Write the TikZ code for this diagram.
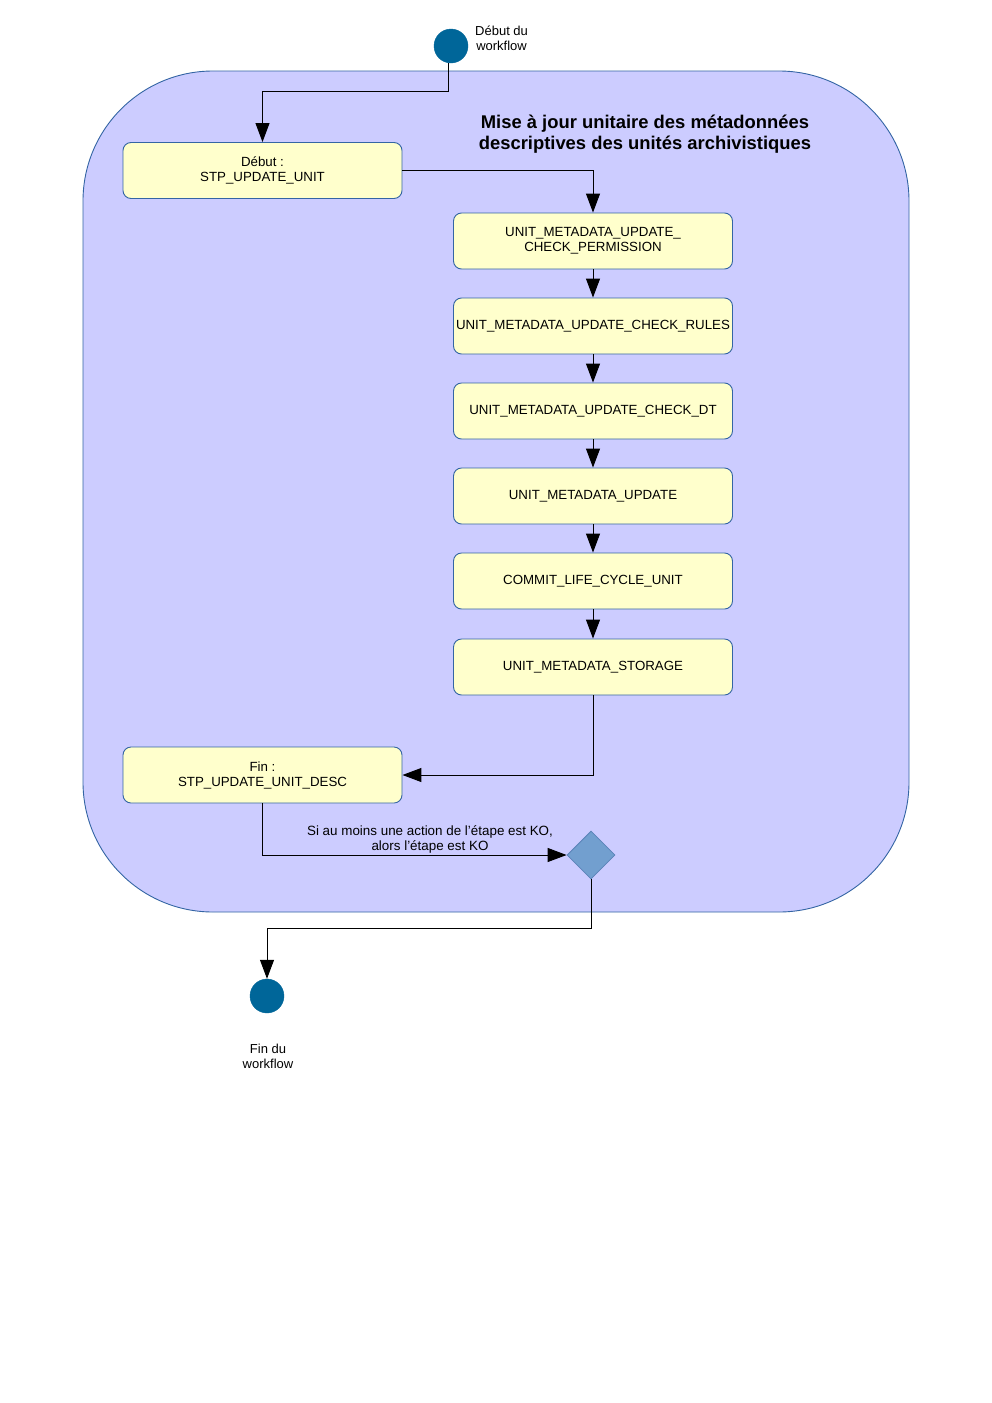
\documentclass[tikz,border=0pt]{standalone}
\usepackage{fontspec}
\setmainfont{Liberation Sans}
\usetikzlibrary{arrows.meta,shapes.geometric,positioning}
\definecolor{lanefill}{HTML}{CCCCFF}
\definecolor{laneedge}{HTML}{3465A4}
\definecolor{boxfill}{HTML}{FFFFCC}
\definecolor{boxedge}{HTML}{3465A4}
\definecolor{dotfill}{HTML}{006699}
\definecolor{diafill}{HTML}{729FCF}
\definecolor{diaedge}{HTML}{5B83B8}
\tikzset{
  stepbox/.style={draw=boxedge, fill=boxfill, rounded corners=8pt, line width=0.9pt,
    minimum width=279pt, minimum height=56pt, align=center, inner sep=0pt,
    font=\fontsize{13.3}{15}\selectfont},
  term/.style={circle, fill=dotfill, draw=dotfill, minimum size=34pt, inner sep=0pt},
  choice/.style={diamond, fill=diafill, draw=diaedge, line width=0.8pt, minimum size=48pt, inner sep=0pt},
  lbl/.style={align=center, font=\fontsize{13}{15}\selectfont, inner sep=0pt},
  flow/.style={line width=1pt, -{Triangle[length=19pt,width=14pt]}},
}
\begin{document}
\begin{tikzpicture}[x=1pt,y=-1pt]
\useasboundingbox (0,0) rectangle (992,1403);
\fill[white] (0,0) rectangle (992,1403);
% swimlane
\draw[draw=laneedge, fill=lanefill, line width=0.9pt, rounded corners=130pt] (83,71) rectangle (909,912);
\node[align=center, font=\fontsize{18.4}{21}\selectfont\bfseries, inner sep=0pt] (title) at (645,134)
  {Mise à jour unitaire des métadonnées\\descriptives des unités archivistiques};
% start
\node[term] (start) at (451,46) {};
\node[lbl, anchor=west] (startlbl) at (475,38) {Début du\\ workflow};
% boxes
\node[stepbox] (b1) at (262.5,170.5) {Début :\\STP\_UPDATE\_UNIT};
\node[stepbox] (b2) at (593,241) {UNIT\_METADATA\_UPDATE\_\\CHECK\_PERMISSION};
\node[stepbox] (b3) at (593,326) {UNIT\_METADATA\_UPDATE\_CHECK\_RULES};
\node[stepbox] (b4) at (593,411) {UNIT\_METADATA\_UPDATE\_CHECK\_DT};
\node[stepbox] (b5) at (593,496) {UNIT\_METADATA\_UPDATE};
\node[stepbox] (b6) at (593,581) {COMMIT\_LIFE\_CYCLE\_UNIT};
\node[stepbox] (b7) at (593,667) {UNIT\_METADATA\_STORAGE};
\node[stepbox] (b8) at (262.5,775) {Fin :\\STP\_UPDATE\_UNIT\_DESC};
\node[choice] (dec) at (591,855) {};
\node[term] (end) at (267,996) {};
\node[lbl] (endlbl) at (268,1056) {Fin du\\workflow};
\node[lbl, font=\fontsize{13.4}{15}\selectfont] (declbl) at (430,839) {Si au moins une action de l'étape est KO,\\alors l'étape est KO};
% connectors
\coordinate (c1) at (448,91);
\draw[flow] ([xshift=-3pt]start.south) |- (c1) -| (b1.north);
\draw[flow] (b1.east) -| (b2.north);
\draw[flow] (b2) -- (b3);
\draw[flow] (b3) -- (b4);
\draw[flow] (b4) -- (b5);
\draw[flow] (b5) -- (b6);
\draw[flow] (b6) -- (b7);
\draw[flow] (b7.south) |- (b8.east);
\draw[flow] (b8.south) |- (dec.west);
\coordinate (c2) at (591,928);
\draw[flow] (dec.south) -- (c2) -| (end.north);
\end{tikzpicture}
\end{document}
